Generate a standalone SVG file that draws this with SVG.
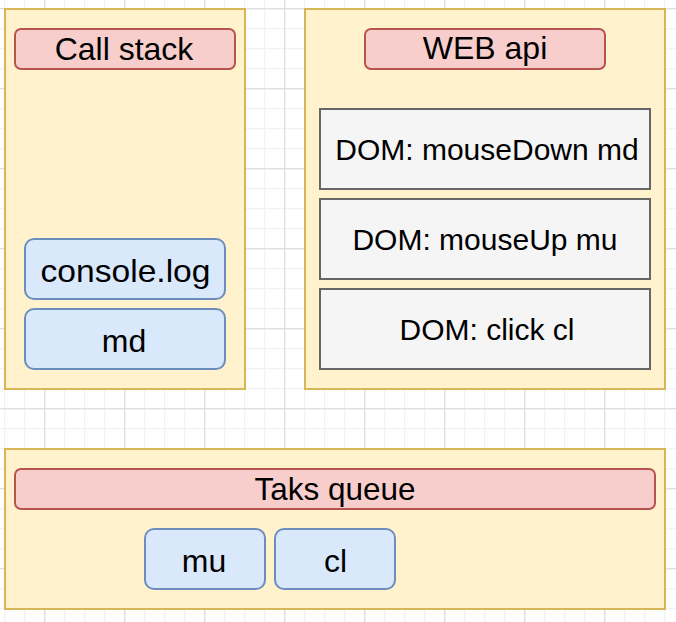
<svg xmlns="http://www.w3.org/2000/svg" width="676" height="622" viewBox="0 0 676 622">
<style>
.cont{fill:#fff2cc;stroke:#d6b656;stroke-width:2}
.head{fill:#f8cecc;stroke:#b85450;stroke-width:2}
.blue{fill:#dae8fc;stroke:#6c8ebf;stroke-width:2}
.dom{fill:#f5f5f5;stroke:#666666;stroke-width:2}
text{font-family:"Liberation Sans",Arial,Helvetica,sans-serif;fill:#000;text-anchor:middle}
.t32{font-size:32px}
.t30{font-size:30px}
</style>
<defs>
<pattern id="gridS" x="4" y="8" width="20" height="20" patternUnits="userSpaceOnUse">
<rect x="0" y="0" width="1.3" height="20" fill="#f2f2f2"/>
<rect x="0" y="0" width="20" height="1.3" fill="#f2f2f2"/>
</pattern>
<pattern id="gridL" x="44" y="8" width="80" height="80" patternUnits="userSpaceOnUse">
<rect x="0" y="0" width="1.3" height="80" fill="#dedede"/>
<rect x="0" y="0" width="80" height="1.3" fill="#dedede"/>
</pattern>
</defs>
<rect x="0" y="0" width="676" height="622" fill="#ffffff"/>
<rect x="0" y="0" width="676" height="622" fill="url(#gridS)"/>
<rect x="0" y="0" width="676" height="622" fill="url(#gridL)"/>

<g id="call-stack">
<rect class="cont" x="5" y="9" width="240" height="380"/>
</g>
<g id="call-stack-title">
<rect class="head" x="15" y="29" width="220" height="40" rx="6" ry="6"/>
<text class="t32" x="124" y="60">Call stack</text>
</g>
<g id="console-log">
<rect class="blue" x="25" y="239" width="200" height="60" rx="9" ry="9"/>
<text class="t32" x="125.5" y="281.5" textLength="170" lengthAdjust="spacingAndGlyphs">console.log</text>
</g>
<g id="md">
<rect class="blue" x="25" y="309" width="200" height="60" rx="9" ry="9"/>
<text class="t32" x="124" y="351.5">md</text>
</g>

<g id="web-api">
<rect class="cont" x="305" y="9" width="360" height="380"/>
</g>
<g id="web-api-title">
<rect class="head" x="365" y="29" width="240" height="40" rx="6" ry="6"/>
<text class="t32" x="485" y="59">WEB api</text>
</g>
<g id="dom-mousedown">
<rect class="dom" x="320" y="109" width="330" height="80"/>
<text class="t30" x="487" y="160">DOM: mouseDown md</text>
</g>
<g id="dom-mouseup">
<rect class="dom" x="320" y="199" width="330" height="80"/>
<text class="t30" x="485" y="250">DOM: mouseUp mu</text>
</g>
<g id="dom-click">
<rect class="dom" x="320" y="289" width="330" height="80"/>
<text class="t30" x="487" y="340">DOM: click cl</text>
</g>

<g id="task-queue">
<rect class="cont" x="5" y="449" width="660" height="160"/>
</g>
<g id="task-queue-title">
<rect class="head" x="15" y="469" width="640" height="40" rx="6" ry="6"/>
<text class="t32" x="335" y="500" textLength="161" lengthAdjust="spacingAndGlyphs">Taks queue</text>
</g>
<g id="mu">
<rect class="blue" x="145" y="529" width="120" height="60" rx="9" ry="9"/>
<text class="t32" x="204" y="571.5">mu</text>
</g>
<g id="cl">
<rect class="blue" x="275" y="529" width="120" height="60" rx="9" ry="9"/>
<text class="t32" x="335.5" y="571.5">cl</text>
</g>

<g id="connectors"></g>
</svg>
